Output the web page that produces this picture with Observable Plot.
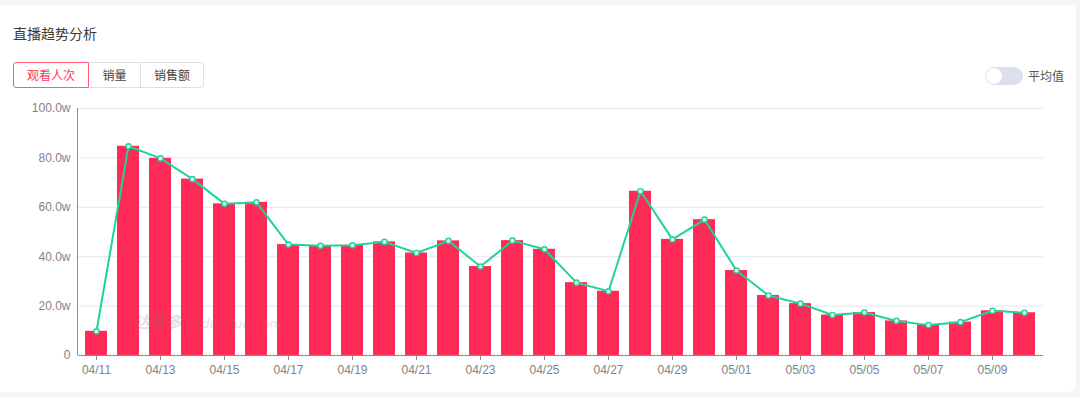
<!DOCTYPE html>
<html>
<head>
<meta charset="utf-8">
<script src="https://cdn.jsdelivr.net/npm/d3@7"></script>
<script src="https://cdn.jsdelivr.net/npm/@observablehq/plot@0.6"></script>
<style>
  html, body { margin: 0; padding: 0; }
  body { width: 1080px; height: 397px; background: #f4f5f7; position: relative; overflow: hidden;
         font-family: "Liberation Sans", "Noto Sans CJK SC", sans-serif; }
  #card { position: absolute; left: 0; top: 5px; width: 1076px; height: 387px; background: #fff;
          border-radius: 0 0 8px 0; }
  #title { position: absolute; left: 13px; top: 24px; font-size: 14px; color: #3a3a3a;
           font-family: "Noto Sans CJK SC", sans-serif; line-height: 18px; }
  #tabs { position: absolute; left: 13px; top: 62px; display: flex; height: 26px; }
  .tab { box-sizing: border-box; height: 26px; line-height: 24px; font-size: 12px; text-align: center;
         font-family: "Noto Sans CJK SC", sans-serif; color: #444; border: 1px solid #dcdfe6; background: #fff; }
  .tab.sel { color: #ff3560; border-color: #ff5a7a; }
  #toggle { position: absolute; left: 985px; top: 67px; width: 38px; height: 18px; border-radius: 9px; background: #dde0ea; }
  #knob { position: absolute; left: 1px; top: 1px; width: 16px; height: 16px; border-radius: 8px; background: #fff; }
  #avg { position: absolute; left: 1028px; top: 67px; font-size: 12px; line-height: 18px; color: #555;
         font-family: "Noto Sans CJK SC", sans-serif; }
  #chart { position: absolute; left: 0; top: 95px; }
  #wm { position: absolute; left: 134px; top: 309px; font-size: 16px; font-style: italic; color: rgba(120,120,130,0.22);
        font-family: "Noto Sans CJK SC", sans-serif; white-space: nowrap; }
  #wm span { font-family: "DejaVu Sans", sans-serif; font-size: 13px; margin-left: 3px; }
</style>
</head>
<body>
<div id="card"></div>
<div id="title">直播趋势分析</div>
<div id="tabs"></div>
<div id="toggle"><div id="knob"></div></div>
<div id="avg">平均值</div>
<div id="chart"></div>
<div id="wm"><b>达多多</b><span>daduoduo.com</span></div>
<script>
// ---- data ----
const dates = ["04/11","04/12","04/13","04/14","04/15","04/16","04/17","04/18","04/19","04/20",
               "04/21","04/22","04/23","04/24","04/25","04/26","04/27","04/28","04/29","04/30",
               "05/01","05/02","05/03","05/04","05/05","05/06","05/07","05/08","05/09","05/10"];
const viewers = [9.8, 84.7, 79.8, 71.4, 61.4, 62.0, 44.9, 44.4, 44.6, 46.0,
                 41.5, 46.4, 36.0, 46.5, 43.0, 29.5, 26.0, 66.5, 47.0, 55.0,
                 34.4, 24.3, 21.0, 16.4, 17.4, 14.0, 12.3, 13.5, 18.1, 17.3];
const yTicks = [0, 20, 40, 60, 80, 100];
const xTickLabels = dates.filter((d, i) => i % 2 === 0);
const tabs = ["观看人次", "销量", "销售额"];

// ---- tabs ----
const tabWidths = [76, 53, 64];
const tabsEl = document.getElementById("tabs");
tabs.forEach((t, i) => {
  const d = document.createElement("div");
  d.className = "tab" + (i === 0 ? " sel" : "");
  d.style.width = tabWidths[i] + "px";
  d.textContent = t;
  if (i === 0) d.style.borderRadius = "3px 0 0 3px";
  if (i > 0) d.style.marginLeft = "-1px";
  if (i === 1) d.style.borderLeftColor = "#ff5a7a";
  if (i === tabs.length - 1) d.style.borderRadius = "0 3px 3px 0";
  tabsEl.appendChild(d);
});

// ---- chart ----
const data = dates.map((d, i) => ({date: d, value: viewers[i]}));
const red = "#ff2a55", green = "#1fd39a";

const chart = Plot.plot({
  width: 1080,
  height: 290,
  marginLeft: 78,
  marginRight: 37,
  marginTop: 13,
  marginBottom: 30,
  style: {fontFamily: "Liberation Sans, Arial, sans-serif", fontSize: "12px", color: "#8a8d96", background: "transparent"},
  x: {type: "band", domain: dates, paddingInner: 0.31, paddingOuter: 0.155, label: null},
  y: {domain: [0, 100], label: null},
  marks: [
    Plot.ruleY(yTicks.filter(v => v > 0), {stroke: "#e5e7f0", strokeWidth: 1}),
    Plot.barY(data, {x: "date", y: "value", fill: red}),
    Plot.line(data, {x: "date", y: "value", stroke: green, strokeWidth: 2}),
    Plot.dot(data, {x: "date", y: "value", r: 2.6, fill: "#dffaf0", stroke: green, strokeWidth: 1.4}),
    Plot.axisY({ticks: yTicks, tickSize: 0, tickPadding: 8,
                tickFormat: v => v === 0 ? "0" : v.toFixed(1) + "w", fill: "#80838c"}),
    Plot.axisX({ticks: xTickLabels, tickSize: 5, tickPadding: 5, stroke: "#8b8e98", fill: "#80838c"}),
    Plot.ruleY([0], {stroke: "#8b8e98"})
  ]
});
document.getElementById("chart").appendChild(chart);

// left axis line along the plot frame's left edge
const svg = d3.select(chart);
svg.append("line")
  .attr("x1", 77.5).attr("x2", 77.5).attr("y1", 13).attr("y2", 260)
  .attr("stroke", "#8b8e98");
</script>
</body>
</html>
